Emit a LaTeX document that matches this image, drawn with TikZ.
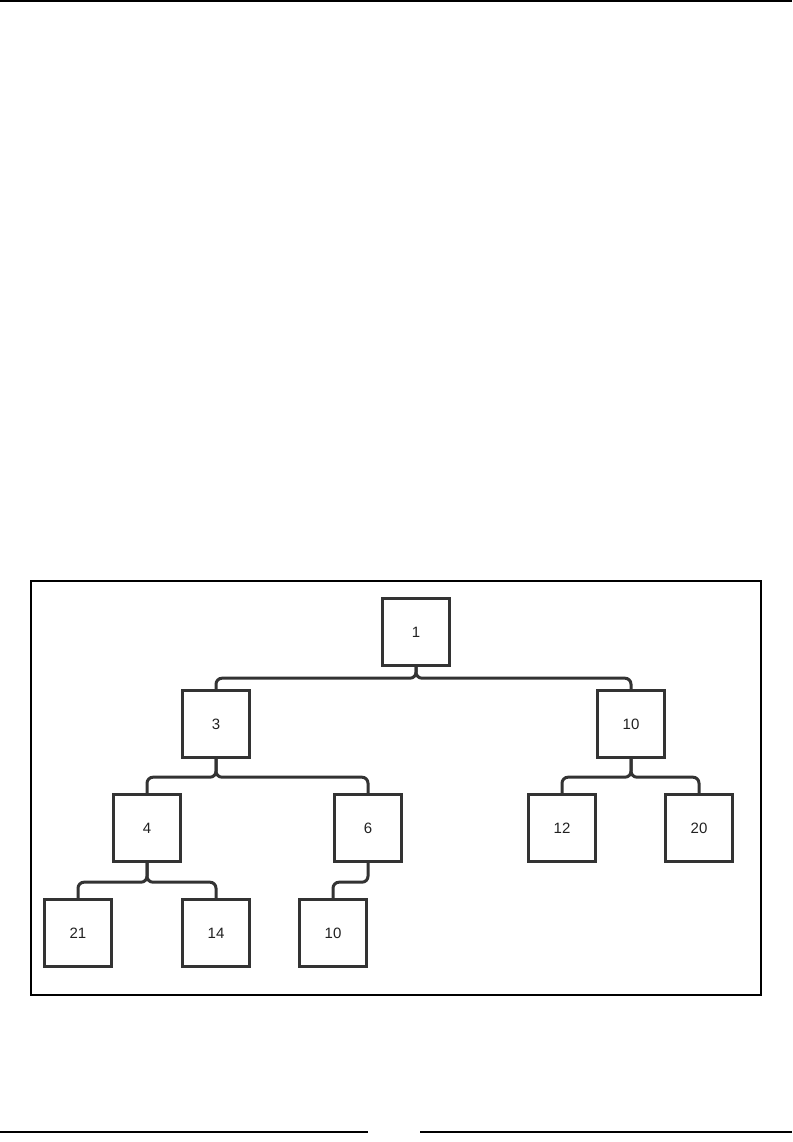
\documentclass[tikz,border=0pt]{standalone}
\usepackage{fontspec}
\setmainfont{Liberation Sans}
\usepackage{tikz}
\usetikzlibrary{positioning}
\definecolor{TreeInk}{gray}{0.2}
\definecolor{TreeText}{gray}{0.13}

\begin{document}
\begin{tikzpicture}[x=1pt,y=-1pt,
  box/.style={draw=TreeInk,fill=white,line width=2.9pt,minimum width=67.5pt,minimum height=67.5pt,inner sep=0pt,font=\fontsize{15}{17}\selectfont,text=TreeText},
  link/.style={draw=TreeInk,line width=3pt,rounded corners=6pt},
  rule/.style={line width=1.7pt,draw=black},
  frame/.style={line width=1.4pt,draw=black}]
  \useasboundingbox (0,0) rectangle (792,1142);
  % page rules
  \draw[rule] (0,1) -- (792,1);
  \draw[rule] (0,1132) -- (368,1132);
  \draw[rule] (420,1132) -- (792,1132);
  \draw[frame] (31,581) rectangle (761,995);
  % tree
  \node[box] (root) at (416,632) {1};
  \node[box] (three) at (216,724) {3};
  \node[box] (tenA) at (631,724) {10};
  \node[box] (four) at (147,828) {4};
  \node[box] (six) at (368,828) {6};
  \node[box] (twelve) at (562,828) {12};
  \node[box] (twenty) at (699,828) {20};
  \node[box] (twentyone) at (78,933) {21};
  \node[box] (fourteen) at (216,933) {14};
  \node[box] (tenB) at (333,933) {10};
  \draw[link] (root.south) -- ++(0,11) -| (three.north);
  \draw[link] (root.south) -- ++(0,11) -| (tenA.north);
  \draw[link] (three.south) -- ++(0,18) -| (four.north);
  \draw[link] (three.south) -- ++(0,18) -| (six.north);
  \draw[link] (tenA.south) -- ++(0,18) -| (twelve.north);
  \draw[link] (tenA.south) -- ++(0,18) -| (twenty.north);
  \draw[link] (four.south) -- ++(0,19) -| (twentyone.north);
  \draw[link] (four.south) -- ++(0,19) -| (fourteen.north);
  \draw[link] (six.south) -- ++(0,19) -| (tenB.north);
\end{tikzpicture}
\end{document}
